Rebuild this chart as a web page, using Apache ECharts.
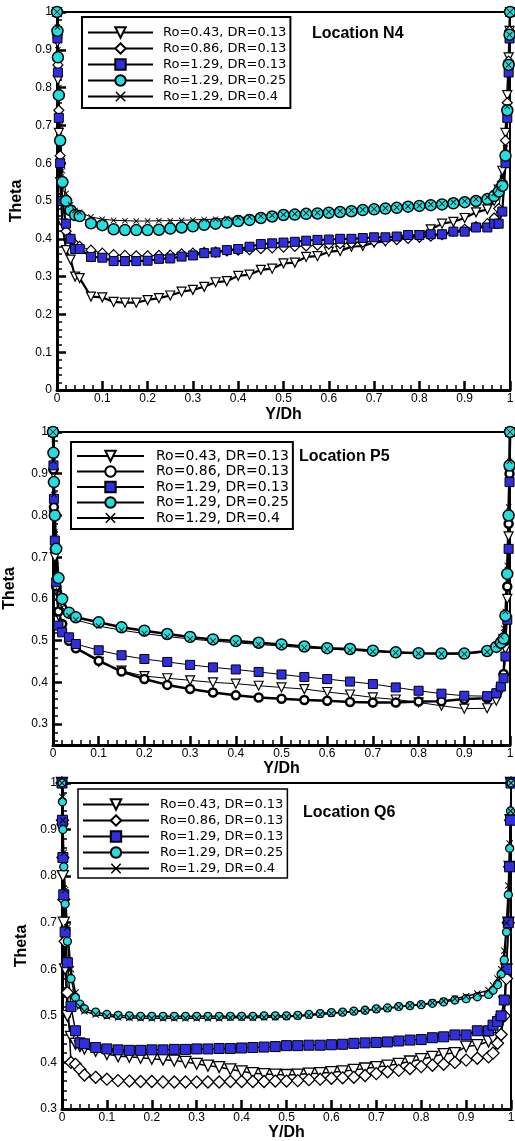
<!DOCTYPE html>
<html><head><meta charset="utf-8">
<script src="https://cdn.jsdelivr.net/npm/echarts@6/dist/echarts.min.js"></script>
<style>
html,body{margin:0;padding:0;background:#fff}
.layer{position:absolute;left:0;top:0;width:515px;height:1141px}
</style>
</head><body><div id="axes" class="layer"></div><div id="marks" class="layer"></div>
<script>
// ---------------- DATA ----------------
const LABELS = ['Ro=0.43, DR=0.13','Ro=0.86, DR=0.13','Ro=1.29, DR=0.13','Ro=1.29, DR=0.25','Ro=1.29, DR=0.4'];
const TITLES = ['Location N4','Location P5','Location Q6'];
const X_NAME = 'Y/Dh';
const Y_NAME = 'Theta';
const Y_TICKS_P2 = [0.3,0.4,0.5,0.6,0.7,0.8,0.9,1];

// Panel 1 (Location N4)
const X1 = [0,0.001,0.002,0.004,0.007,0.012,0.02,0.03,0.04,
  0.05,0.075,0.1,0.125,0.15,0.175,0.2,0.225,0.25,0.275,
  0.3,0.325,0.35,0.375,0.4,0.425,0.45,0.475,0.5,0.525,
  0.55,0.575,0.6,0.625,0.65,0.675,0.7,0.725,0.75,0.775,
  0.8,0.825,0.85,0.875,0.9,0.925,0.95,
  0.965,0.975,0.983,0.99,0.994,0.997,0.999,1];
const P1_RO043 = [1,0.92,0.82,0.68,0.55,0.44,0.37,0.345,0.30,
  0.296,0.247,0.245,0.233,0.231,0.231,0.238,0.243,0.250,0.260,
  0.265,0.273,0.285,0.288,0.302,0.305,0.318,0.321,0.335,0.337,
  0.352,0.354,0.366,0.368,0.379,0.381,0.390,0.393,0.400,0.404,
  0.410,0.425,0.440,0.445,0.455,0.470,0.478,
  0.50,0.53,0.58,0.68,0.78,0.88,0.95,1];
const P1_RO086 = [1,0.94,0.86,0.74,0.62,0.50,0.42,0.40,0.385,
  0.380,0.370,0.362,0.358,0.356,0.355,0.355,0.356,0.357,0.360,
  0.362,0.364,0.365,0.368,0.370,0.371,0.374,0.376,0.378,0.380,
  0.381,0.383,0.386,0.387,0.389,0.391,0.394,0.396,0.398,0.401,
  0.404,0.407,0.411,0.420,0.425,0.432,0.440,
  0.455,0.48,0.55,0.66,0.76,0.87,0.95,1];
const P1_RO129_DR013 = [1,0.93,0.84,0.72,0.60,0.50,0.44,0.40,0.373,
  0.373,0.352,0.350,0.341,0.341,0.341,0.342,0.347,0.348,0.353,
  0.356,0.362,0.364,0.370,0.373,0.379,0.386,0.388,0.390,0.392,
  0.395,0.397,0.398,0.400,0.400,0.402,0.404,0.404,0.406,0.410,
  0.410,0.412,0.412,0.419,0.419,0.430,0.430,
  0.440,0.440,0.472,0.60,0.72,0.84,0.93,1];
const P1_RO129_DR025 = [1,0.95,0.88,0.78,0.66,0.55,0.50,0.475,0.463,
  0.460,0.441,0.436,0.425,0.423,0.423,0.423,0.424,0.427,0.430,
  0.433,0.437,0.440,0.443,0.447,0.450,0.455,0.459,0.463,0.464,
  0.466,0.467,0.469,0.471,0.473,0.476,0.478,0.480,0.482,0.485,
  0.487,0.489,0.491,0.494,0.497,0.500,0.505,
  0.513,0.525,0.54,0.62,0.74,0.86,0.94,1];
const P1_RO129_DR04 = [1,0.96,0.90,0.80,0.70,0.58,0.52,0.49,0.475,
  0.470,0.458,0.452,0.449,0.448,0.447,0.447,0.448,0.448,0.449,
  0.450,0.451,0.452,0.454,0.456,0.458,0.460,0.462,0.464,0.466,
  0.468,0.469,0.471,0.473,0.475,0.477,0.479,0.481,0.483,0.486,
  0.488,0.491,0.493,0.497,0.500,0.505,0.510,
  0.52,0.535,0.56,0.64,0.75,0.86,0.94,1];

// Panel 2 (Location P5)
const X2 = [0,0.001,0.002,0.004,0.007,0.012,0.02,0.035,
  0.05,0.1,0.15,0.2,0.25,0.3,0.35,0.4,0.45,0.5,
  0.55,0.6,0.65,0.7,0.75,0.8,0.85,0.9,0.95,
  0.97,0.98,0.986,0.99,0.994,0.997,0.999,1];
const P2_RO043 = [1,0.90,0.80,0.70,0.62,0.56,0.53,0.50,
  0.483,0.449,0.428,0.415,0.410,0.405,0.400,0.397,0.392,0.388,
  0.384,0.377,0.371,0.364,0.359,0.352,0.344,0.337,0.338,
  0.356,0.38,0.41,0.48,0.60,0.75,0.90,1];
const P2_RO086 = [1,0.91,0.82,0.72,0.63,0.57,0.54,0.50,
  0.482,0.452,0.426,0.408,0.394,0.384,0.376,0.369,0.364,0.361,
  0.358,0.356,0.353,0.352,0.352,0.354,0.355,0.360,0.362,
  0.374,0.39,0.42,0.50,0.63,0.78,0.90,1];
const P2_RO129_DR013 = [1,0.92,0.84,0.74,0.64,0.536,0.52,0.508,
  0.492,0.477,0.465,0.456,0.449,0.442,0.436,0.431,0.425,0.419,
  0.413,0.408,0.402,0.396,0.388,0.380,0.373,0.368,0.367,
  0.374,0.39,0.41,0.462,0.55,0.72,0.88,1];
const P2_RO129_DR025 = [1,0.95,0.88,0.80,0.72,0.65,0.60,0.567,
  0.556,0.544,0.532,0.524,0.516,0.509,0.503,0.499,0.495,0.491,
  0.486,0.482,0.480,0.476,0.472,0.470,0.469,0.469,0.475,
  0.485,0.495,0.505,0.56,0.66,0.80,0.92,1];
const P2_RO129_DR04 = [1,0.93,0.85,0.76,0.68,0.62,0.58,0.56,
  0.550,0.535,0.525,0.517,0.510,0.504,0.499,0.495,0.491,0.487,
  0.483,0.480,0.477,0.474,0.471,0.469,0.468,0.468,0.473,
  0.49,0.51,0.53,0.57,0.68,0.82,0.93,1];

// Panel 3 (Location Q6)
const X3 = [0,0.001,0.002,0.004,0.007,0.012,0.02,0.03,0.04,
  0.05,0.075,0.1,0.125,0.15,0.175,0.2,0.225,0.25,0.275,
  0.3,0.325,0.35,0.375,0.4,0.425,0.45,0.475,0.5,0.525,
  0.55,0.575,0.6,0.625,0.65,0.675,0.7,0.725,0.75,0.775,
  0.8,0.825,0.85,0.875,0.9,0.925,0.95,
  0.96,0.97,0.978,0.985,0.99,0.994,0.997,0.999,1];
const P3_RO043 = [1,0.90,0.80,0.70,0.60,0.50,0.455,0.44,0.435,
  0.430,0.425,0.418,0.413,0.412,0.410,0.408,0.406,0.404,0.401,
  0.397,0.393,0.390,0.385,0.381,0.377,0.375,0.374,0.373,0.374,
  0.376,0.377,0.379,0.381,0.384,0.387,0.390,0.393,0.397,0.402,
  0.407,0.412,0.418,0.420,0.434,0.437,0.445,
  0.452,0.47,0.49,0.53,0.60,0.70,0.82,0.92,1];
const P3_RO086 = [1,0.92,0.84,0.75,0.66,0.55,0.40,0.396,0.385,
  0.373,0.368,0.364,0.361,0.360,0.359,0.359,0.358,0.358,0.358,
  0.358,0.358,0.358,0.359,0.359,0.359,0.359,0.360,0.360,0.361,
  0.363,0.364,0.366,0.367,0.368,0.372,0.376,0.380,0.383,0.387,
  0.391,0.394,0.396,0.400,0.405,0.409,0.412,
  0.42,0.441,0.46,0.50,0.58,0.70,0.82,0.92,1];
const P3_RO129_DR013 = [1,0.92,0.84,0.76,0.68,0.614,0.52,0.468,0.442,
  0.440,0.432,0.429,0.427,0.426,0.426,0.427,0.427,0.428,0.428,
  0.429,0.429,0.430,0.430,0.431,0.432,0.433,0.434,0.436,0.436,
  0.437,0.437,0.438,0.439,0.441,0.442,0.443,0.444,0.446,0.448,
  0.449,0.453,0.455,0.459,0.459,0.468,0.468,
  0.48,0.488,0.50,0.534,0.60,0.70,0.82,0.92,1];
const P3_RO129_DR025 = [1,0.96,0.90,0.82,0.74,0.66,0.58,0.54,0.525,
  0.515,0.508,0.503,0.501,0.500,0.499,0.499,0.499,0.499,0.499,
  0.499,0.499,0.499,0.499,0.499,0.499,0.500,0.500,0.500,0.501,
  0.503,0.505,0.507,0.508,0.510,0.512,0.515,0.517,0.520,0.522,
  0.524,0.527,0.530,0.534,0.537,0.541,0.546,
  0.555,0.567,0.59,0.62,0.68,0.76,0.86,0.94,1];
const P3_RO129_DR04 = [1,0.97,0.92,0.85,0.77,0.69,0.60,0.55,0.52,
  0.510,0.503,0.499,0.497,0.496,0.495,0.495,0.495,0.495,0.495,
  0.495,0.495,0.495,0.496,0.496,0.496,0.497,0.497,0.498,0.499,
  0.501,0.503,0.505,0.507,0.509,0.511,0.514,0.516,0.519,0.522,
  0.525,0.528,0.532,0.537,0.542,0.548,0.555,
  0.565,0.58,0.60,0.64,0.70,0.78,0.87,0.94,1];

// ---------------- STYLE / LAYOUT ----------------
const FONT = "'Liberation Sans', Arial, Helvetica, sans-serif";
const TRI = 'path://M0,0L10,0L5,9Z';
const XM = 'path://M0,1L1,0L5,4L9,0L10,1L6,5L10,9L9,10L5,6L1,10L0,9L4,5Z';
const BLUE = '#2f2fe0', CYAN = '#22dede';

const PANELS = [
  {x: X1, ys: [P1_RO043, P1_RO086, P1_RO129_DR013, P1_RO129_DR025, P1_RO129_DR04]},
  {x: X2, ys: [P2_RO043, P2_RO086, P2_RO129_DR013, P2_RO129_DR025, P2_RO129_DR04]},
  {x: X3, ys: [P3_RO043, P3_RO086, P3_RO129_DR013, P3_RO129_DR025, P3_RO129_DR04]}
];
const STY = [
  [{sym:TRI,size:9,fill:'#fff',bw:1.2,lw:2.2},{sym:'diamond',size:10,fill:'#fff',bw:1.2,lw:1},
   {sym:'rect',size:9,fill:BLUE,bw:1,lw:2.2},{sym:'circle',size:11,fill:CYAN,bw:1.5,lw:1},
   {sym:XM,size:6,fill:'#000',bw:0,lw:1}],
  [{sym:TRI,size:9,fill:'#fff',bw:1.2,lw:1},{sym:'circle',size:8,fill:'#fff',bw:2.5,lw:2.5},
   {sym:'rect',size:9,fill:BLUE,bw:1,lw:1},{sym:'circle',size:11,fill:CYAN,bw:1.5,lw:2.5},
   {sym:XM,size:6,fill:'#000',bw:0,lw:1}],
  [{sym:TRI,size:11,fill:'#fff',bw:1.3,lw:1.5},{sym:'diamond',size:12,fill:'#fff',bw:1.3,lw:1.5},
   {sym:'rect',size:10,fill:BLUE,bw:1,lw:1.5},{sym:'circle',size:8,fill:CYAN,bw:1.3,lw:1.5},
   {sym:XM,size:7,fill:'#000',bw:0,lw:1.5}]
];
const GRIDS = [
  {left:57, top:12, width:453, height:378},
  {left:53, top:432, width:457, height:313},
  {left:62, top:783, width:449, height:326}
];
const XNAMEGAP = [17, 14, 16];
const YNAMEGAP = [30, 35, 32];
const YRANGE = [[0,1,0.1],[0.25,1,0.05],[0.3,1,0.1]];
const TITLEPOS = [{left:312, top:26},{left:299, top:449},{left:303, top:805}];
const LEG = [
  {left:82, top:17, padding:[9,4,5,5], itemWidth:65, itemGap:3, fontSize:13, tp:5, bw:2},
  {left:71, top:442, padding:[7,4,4,5], itemWidth:67, itemGap:1.5, fontSize:14, tp:7, bw:2},
  {left:78, top:789, padding:[9,4,3,4], itemWidth:66, itemGap:3, fontSize:13, tp:6, bw:1.5}
];

const MINOR_P2 = [];
for (let i = 26; i < 100; i += 2) { if (i % 10 !== 0) MINOR_P2.push(i / 100); }

function mkTick() { return {show:true, inside:true, length:9, lineStyle:{color:'#000', width:2.5}}; }
function mkMinor() { return {show:true, splitNumber:5, length:5, lineStyle:{color:'#000', width:1.5}}; }
function mkLine() { return {show:true, onZero:false, lineStyle:{color:'#000', width:3}}; }
function mkLabel(m) { return {margin:m, color:'#000', fontFamily:FONT, fontSize:12}; }
function mkName() { return {color:'#000', fontFamily:FONT, fontSize:16, fontWeight:'bold'}; }

// ---------- layer 1: frames, axes, ticks, titles ----------
const xAxisA = GRIDS.map((g, i) => ({
  type:'value', gridIndex:i, position:'bottom', min:0, max:1, interval:0.1,
  axisLine: mkLine(), axisTick: mkTick(), minorTick: mkMinor(), splitLine:{show:false},
  axisLabel: mkLabel(3), name: X_NAME, nameLocation:'middle', nameGap: XNAMEGAP[i], nameTextStyle: mkName()
}));
const yAxisA = GRIDS.map((g, i) => {
  const ax = {
    type:'value', gridIndex:i, position:'left', min:YRANGE[i][0], max:YRANGE[i][1], interval:YRANGE[i][2],
    axisLine: mkLine(), axisTick: mkTick(), minorTick: mkMinor(), splitLine:{show:false},
    axisLabel: mkLabel(5), name: Y_NAME, nameLocation:'middle', nameGap: YNAMEGAP[i], nameTextStyle: mkName()
  };
  if (i === 1) { ax.axisLabel.customValues = Y_TICKS_P2; ax.axisTick.customValues = Y_TICKS_P2; ax.minorTick = {show:false}; }
  return ax;
});
yAxisA.push({
  type:'value', gridIndex:1, position:'left', min:0.25, max:1, interval:0.05,
  axisLine:{show:false}, axisLabel:{show:false}, splitLine:{show:false},
  axisTick:{show:true, inside:true, length:5, customValues:MINOR_P2, lineStyle:{color:'#000', width:1.5}}
});
const optionA = {
  backgroundColor:'#fff', animation:false,
  title: TITLES.map((t, i) => ({ text:t, left:TITLEPOS[i].left, top:TITLEPOS[i].top, padding:0,
    textStyle:{color:'#000', fontFamily:FONT, fontSize:16, fontWeight:'bold'} })),
  grid: GRIDS.map(g => Object.assign({show:true, borderColor:'#000', borderWidth:2, outerBoundsMode:'none'}, g)),
  xAxis: xAxisA, yAxis: yAxisA, series: []
};

// ---------- layer 2: data series and legends (same scales) ----------
const xAxisB = GRIDS.map((g, i) => ({type:'value', gridIndex:i, show:false, min:0, max:1, interval:0.1}));
const yAxisB = GRIDS.map((g, i) => ({type:'value', gridIndex:i, show:false, min:YRANGE[i][0], max:YRANGE[i][1], interval:YRANGE[i][2]}));
const series = [];
PANELS.forEach((p, g) => p.ys.forEach((ys, k) => {
  const s = STY[g][k];
  series.push({
    name: 'p' + g + 's' + k, type:'line', xAxisIndex:g, yAxisIndex:g,
    data: p.x.map((x, i) => [x, ys[i]]),
    symbol: s.sym, symbolSize: s.size, showSymbol:true, showAllSymbol:true, clip:false,
    lineStyle:{color:'#000', width:s.lw},
    itemStyle:{color:s.fill, borderColor:'#000', borderWidth:s.bw},
    emphasis:{disabled:true}, silent:true
  });
}));
const optionB = {
  backgroundColor:'transparent', animation:false,
  grid: GRIDS.map(g => Object.assign({show:false, outerBoundsMode:'none'}, g)),
  xAxis: xAxisB, yAxis: yAxisB, series,
  legend: LEG.map((L, g) => ({
    orient:'vertical', left:L.left, top:L.top, padding:L.padding,
    itemWidth:L.itemWidth, itemHeight:13, itemGap:L.itemGap,
    borderColor:'#000', borderWidth:L.bw, backgroundColor:'#fff', selectedMode:false,
    data: LABELS.map((_, k) => 'p' + g + 's' + k),
    formatter: name => LABELS[+name.slice(-1)],
    textStyle:{fontFamily:'DejaVu Sans', fontSize:L.fontSize, color:'#000', padding:[0,0,0,L.tp]}
  }))
};

const chartA = echarts.init(document.getElementById('axes'), null, {renderer:'canvas', width:515, height:1141});
chartA.setOption(optionA);
const chartB = echarts.init(document.getElementById('marks'), null, {renderer:'canvas', width:515, height:1141});
chartB.setOption(optionB);
</script>
</body></html>
